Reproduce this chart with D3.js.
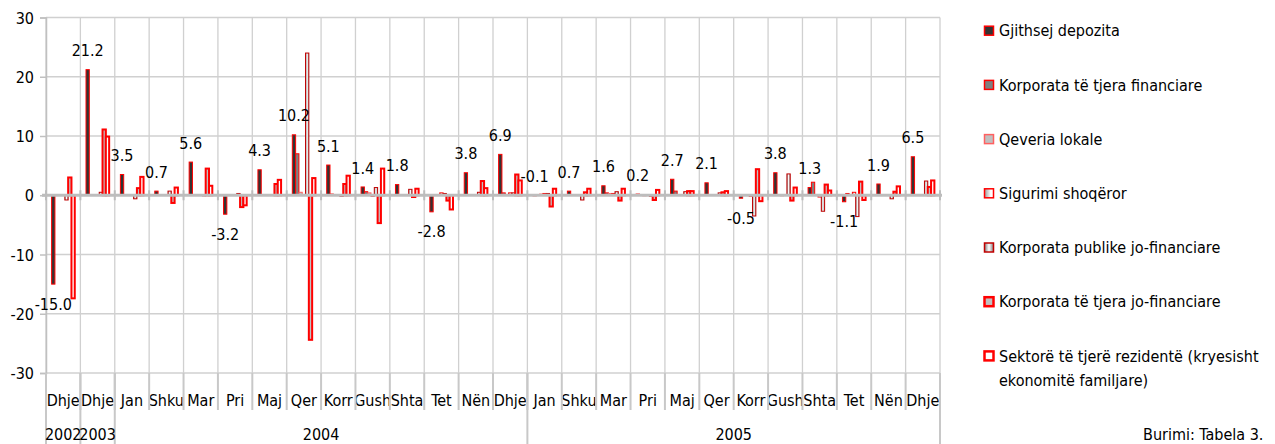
<!DOCTYPE html>
<html>
<head>
<meta charset="utf-8">
<script src="https://cdn.jsdelivr.net/npm/d3@7"></script>
<style>
    body { margin: 0; background: #fff; }
    svg text { font-family: "DejaVu Sans Condensed", "DejaVu Sans", sans-serif; font-stretch: condensed; font-size: 16px; fill: #000; }
</style>
</head>
<body>
<div id="chart"></div>
<script>
// Months (category labels) and the year groups below them
const months = ["Dhje", "Dhje", "Jan", "Shku", "Mar", "Pri", "Maj", "Qer", "Korr", "Gush", "Shta", "Tet", "Nën", "Dhje",
    "Jan", "Shku", "Mar", "Pri", "Maj", "Qer", "Korr", "Gush", "Shta", "Tet", "Nën", "Dhje"];
const years = ["2002", "2003", "2004", "2005"];
const yearSpans = [1, 1, 12, 12];

const seriesNames = [
    "Gjithsej depozita",
    "Korporata të tjera financiare",
    "Qeveria lokale",
    "Sigurimi shoqëror",
    "Korporata publike jo-financiare",
    "Korporata të tjera jo-financiare",
    "Sektorë të tjerë rezidentë (kryesisht ekonomitë familjare)"
];

const gjithsej = [-15.0, 21.2, 3.5, 0.7, 5.6, -3.2, 4.3, 10.2, 5.1, 1.4, 1.8, -2.8, 3.8, 6.9,
    -0.1, 0.7, 1.6, 0.2, 2.7, 2.1, -0.5, 3.8, 1.3, -1.1, 1.9, 6.5];
const korpFinanciare = [0, 0, 0, 0, 0, 0, 0, 7.0, 0.2, 0.6, 0, 0, 0.1, 0.4,
    0, 0, 0.4, 0, 0.7, 0, 0, 0, 2.2, 0.3, 0, 0];
const qeveriaLokale = [0, 0, 0, 0, 0, 0, 0, 0.5, 0, 0.4, 0, 0, 0, 0,
    0.2, 0, 0.3, -0.1, 0, 0, 0, -0.1, 0, 0, 0, 0];
const sigurimi = [0, 0, 0, 0, 0, 0, 0, 0, 0, -0.2, 0, 0.4, 0, 0.4,
    0.3, 0, 0.3, 0, 0, 0, -0.2, 0, -0.3, 0.5, 0, 0];
const korpPublike = [-0.8, 0.5, -0.6, 0.7, -0.1, 0.3, 0, 24.0, -0.2, 1.3, 1.0, 0.3, 0.5, 0.4,
    0.3, -0.8, 0.6, -0.2, 0.6, 0.4, -3.5, 3.6, -2.7, -3.6, -0.6, 2.4];
const korpJoFinanciare = [3.0, 11.1, 1.2, -1.3, 4.5, -2.0, 1.9, -24.4, 1.9, -4.7, -0.3, -0.9, 2.4, 3.5,
    -1.9, 0.5, -0.9, -0.8, 0.7, 0.5, 4.4, -0.9, 1.8, 2.3, 0.6, 1.4];
const sektore = [-17.4, 9.9, 3.1, 1.3, 1.6, -1.7, 2.6, 2.9, 3.3, 4.5, 1.1, -2.4, 1.2, 2.5,
    1.1, 1.1, 1.1, 0.9, 0.7, 0.7, -1.0, 1.3, 0.8, -0.8, 1.5, 2.5];

const yTicks = [-30, -20, -10, 0, 10, 20, 30];

const allSeries = [gjithsej, korpFinanciare, qeveriaLokale, sigurimi, korpPublike, korpJoFinanciare, sektore];

const width = 1275, height = 444;
const plotLeft = 46, plotRight = 940, plotTop = 17.5, plotBottom = 373;

const svg = d3.select("#chart").append("svg")
    .attr("width", width)
    .attr("height", height);

const defs = svg.append("defs");
const g1 = defs.append("linearGradient").attr("id", "gradSig");
g1.append("stop").attr("offset", "0%").attr("stop-color", "#9a9a9a");
g1.append("stop").attr("offset", "70%").attr("stop-color", "#ffffff");
const g2 = defs.append("linearGradient").attr("id", "gradPub");
g2.append("stop").attr("offset", "0%").attr("stop-color", "#808080");
g2.append("stop").attr("offset", "50%").attr("stop-color", "#ffffff");
g2.append("stop").attr("offset", "100%").attr("stop-color", "#808080");

// fill / stroke of each series
const styles = [
    { fill: "#333333", stroke: "#ff0000", sw: 1 },
    { fill: "#808080", stroke: "#ff0000", sw: 1 },
    { fill: "#c0c0c0", stroke: "#ff6060", sw: 1 },
    { fill: "url(#gradSig)", stroke: "#ff0000", sw: 1 },
    { fill: "url(#gradPub)", stroke: "#c00000", sw: 1 },
    { fill: "#c0c0c0", stroke: "#ff0000", sw: 2 },
    { fill: "#ffffff", stroke: "#ff0000", sw: 2 }
];

const x0 = d3.scaleBand().domain(d3.range(months.length)).range([plotLeft, plotRight]);
const x1 = d3.scaleBand().domain(d3.range(allSeries.length)).range([0, x0.bandwidth()]).paddingOuter(1.7);
const y = d3.scaleLinear().domain([-30, 30]).range([plotBottom, plotTop]);

const bounds = d3.range(months.length + 1).map((i) => plotLeft + i * x0.bandwidth());

// gridlines
svg.append("g").selectAll("line").data(yTicks).enter().append("line")
    .attr("x1", plotLeft).attr("x2", plotRight)
    .attr("y1", (d) => y(d)).attr("y2", (d) => y(d))
    .attr("stroke", "#d0d0d0").attr("stroke-width", 1.3);
svg.append("g").selectAll("line").data(bounds).enter().append("line")
    .attr("x1", (d) => d).attr("x2", (d) => d)
    .attr("y1", plotTop).attr("y2", plotBottom)
    .attr("stroke", "#d0d0d0").attr("stroke-width", 1.3);

// y axis (plain hyphen for negatives, like the original)
const yAxis = svg.append("g")
    .attr("transform", "translate(" + plotLeft + ",0)")
    .call(d3.axisLeft(y).tickValues(yTicks).tickSize(6).tickPadding(6).tickFormat((d) => String(d)));
yAxis.attr("font-size", null).attr("font-family", null);
yAxis.select(".domain").attr("stroke", "#c0c0c0").attr("stroke-width", 1.5);
yAxis.selectAll(".tick line").attr("stroke", "#c0c0c0").attr("stroke-width", 1.5);
yAxis.selectAll("text").attr("dy", "0.35em");

// bars
const groups = svg.append("g").selectAll("g")
    .data(months).enter().append("g")
    .attr("transform", (d, i) => "translate(" + x0(i) + ",0)");

groups.selectAll("rect")
    .data((d, i) => allSeries.map((s, k) => ({ k: k, v: s[i] })))
    .enter().append("rect")
    .attr("x", (d) => x1(d.k))
    .attr("width", x1.bandwidth())
    .attr("y", (d) => y(Math.max(0, d.v)))
    .attr("height", (d) => Math.abs(y(d.v) - y(0)))
    .attr("fill", (d) => styles[d.k].fill)
    .attr("stroke", (d) => styles[d.k].stroke)
    .attr("stroke-width", (d) => styles[d.k].sw);

// zero axis line with ticks
svg.append("line")
    .attr("x1", plotLeft - 4).attr("x2", plotRight + 2)
    .attr("y1", y(0)).attr("y2", y(0))
    .attr("stroke", "#bdbdbd").attr("stroke-width", 3);
svg.append("g").selectAll("line").data(bounds).enter().append("line")
    .attr("x1", (d) => d).attr("x2", (d) => d)
    .attr("y1", y(0) - 5).attr("y2", y(0) + 5)
    .attr("stroke", "#bdbdbd").attr("stroke-width", 2);

// data labels of the total
svg.append("g").selectAll("text")
    .data(gjithsej).enter().append("text")
    .attr("x", (d, i) => x0(i) + x1(0) + x1.bandwidth() / 2)
    .attr("y", (d) => (d < -0.2 ? y(d) + 20 : y(Math.max(0, d)) - 19))
    .attr("dy", "0.35em")
    .attr("text-anchor", "middle")
    .text((d) => d.toFixed(1));

// category axis: month row
svg.append("g").selectAll("line").data(bounds).enter().append("line")
    .attr("x1", (d) => d).attr("x2", (d) => d)
    .attr("y1", plotBottom).attr("y2", 410)
    .attr("stroke", "#c8c8c8").attr("stroke-width", 2);

const clips = defs.selectAll("clipPath").data(months).enter().append("clipPath")
    .attr("id", (d, i) => "mclip" + i);
clips.append("rect")
    .attr("x", (d, i) => x0(i) + 1).attr("y", 380)
    .attr("width", x0.bandwidth() - 2).attr("height", 30);

svg.append("g").selectAll("text").data(months).enter().append("text")
    .attr("clip-path", (d, i) => "url(#mclip" + i + ")")
    .attr("x", (d, i) => x0(i) + x0.bandwidth() / 2)
    .attr("y", 400)
    .attr("dy", "0.35em")
    .attr("text-anchor", "middle")
    .text((d) => d);

// category axis: year row
const yearStarts = yearSpans.map((s, i) => d3.sum(yearSpans.slice(0, i)));
const yearBounds = yearStarts.concat([months.length]);
svg.append("g").selectAll("line").data(yearBounds).enter().append("line")
    .attr("x1", (d) => bounds[d]).attr("x2", (d) => bounds[d])
    .attr("y1", plotBottom).attr("y2", height)
    .attr("stroke", "#c8c8c8").attr("stroke-width", 2);
svg.append("g").selectAll("text").data(years).enter().append("text")
    .attr("x", (d, i) => (bounds[yearStarts[i]] + bounds[yearStarts[i] + yearSpans[i]]) / 2)
    .attr("y", 434)
    .attr("dy", "0.35em")
    .attr("text-anchor", "middle")
    .text((d) => d);

// legend
const legend = svg.append("g").attr("transform", "translate(984,0)");
const items = legend.selectAll("g").data(seriesNames).enter().append("g")
    .attr("transform", (d, i) => "translate(0," + (30.7 + i * 54.2) + ")");
items.append("rect")
    .attr("x", 0.5).attr("y", -4.5).attr("width", 9).attr("height", 9)
    .attr("fill", (d, i) => styles[i].fill)
    .attr("stroke", (d, i) => styles[i].stroke)
    .attr("stroke-width", (d, i) => styles[i].sw + 0.5);
items.append("text")
    .attr("x", 15).attr("y", 0).attr("dy", "0.35em")
    .text((d, i) => (i === 6 ? "Sektorë të tjerë rezidentë (kryesisht" : d));
legend.append("text")
    .attr("x", 15).attr("y", 30.7 + 6 * 54.2 + 24.5).attr("dy", "0.35em")
    .text("ekonomitë familjare)");

svg.append("text")
    .attr("x", 1143).attr("y", 434).attr("dy", "0.35em")
    .text("Burimi: Tabela 3.");
</script>
</body>
</html>
